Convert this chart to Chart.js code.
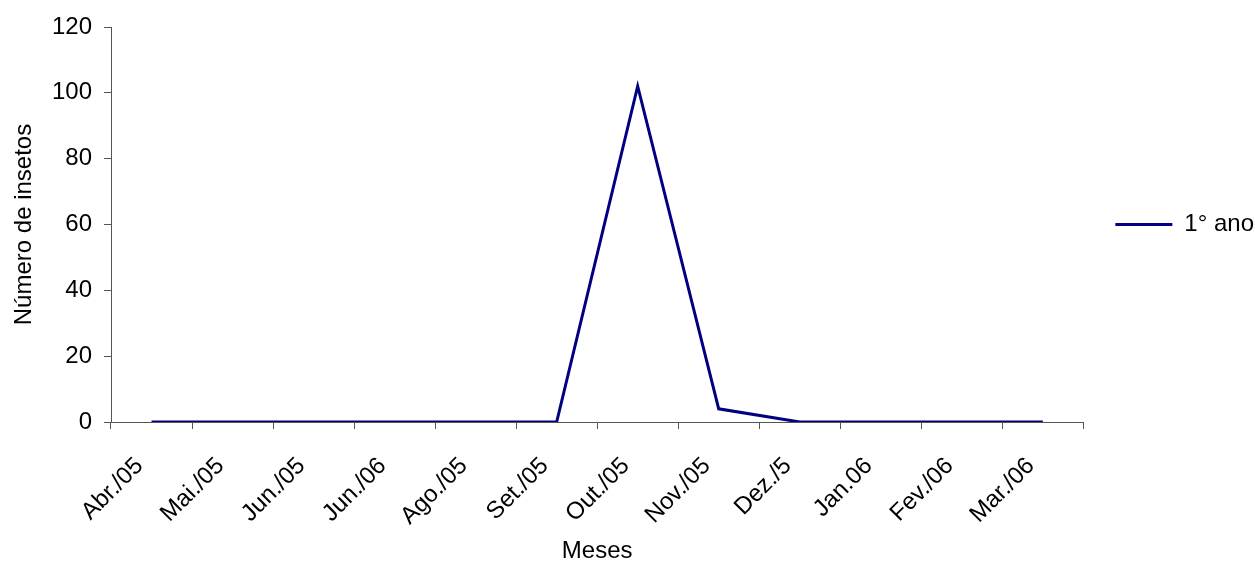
<!DOCTYPE html>
<html lang="pt">
<head>
<meta charset="UTF-8" />
<script src="https://cdn.jsdelivr.net/npm/chart.js"></script>
<title>Número de insetos</title>
<style>
  body { margin: 0; background: #fff; }
  .grafico { width: 1255px; height: 563px; }
</style>
</head>
<body>
<div class="grafico"><canvas id="myChart" width="1255" height="563"></canvas></div>
<script>
var meses = ["Abr./05", "Mai./05", "Jun./05", "Jun./06", "Ago./05", "Set./05", "Out./05", "Nov./05", "Dez./5", "Jan.06", "Fev./06", "Mar./06"];
var primeiroAno = [0, 0, 0, 0, 0, 0, 102, 4, 0, 0, 0, 0];
var yMin = 0, yMax = 120, yPasso = 20;

var fonte = { family: "'Liberation Sans', Arial, sans-serif", size: 24 };
var corEixo = "#555";

const ctx = document.getElementById("myChart");
var chart = new Chart(ctx, {
  type: "line",
  data: {
    labels: meses,
    datasets: [{
      label: "1° ano",
      data: primeiroAno,
      borderColor: "#000080",
      backgroundColor: "#000080",
      borderWidth: 3,
      pointRadius: 0,
      tension: 0
    }]
  },
  options: {
    responsive: false,
    animation: false,
    layout: { padding: { left: 6, top: 27, right: -9, bottom: 0 } },
    plugins: {
      tooltip: { enabled: false },
      legend: {
        position: "right",
        fullSize: false,
        labels: {
          usePointStyle: true,
          pointStyle: "line",
          pointStyleWidth: 57,
          padding: 32,
          color: "#000",
          font: fonte
        }
      }
    },
    scales: {
      x: {
        offset: true,
        grid: { offset: true, drawOnChartArea: false, drawTicks: true, tickLength: 7, color: corEixo },
        border: { display: true, color: corEixo, width: 1 },
        ticks: { color: "#000", font: fonte, minRotation: 45, maxRotation: 45, padding: 23, labelOffset: -12 },
        title: { display: true, text: "Meses", color: "#000", font: fonte, padding: { top: 4, bottom: -3 } },
        afterFit: function (scale) { scale.height = 141; }
      },
      y: {
        min: yMin,
        max: yMax,
        grid: { drawOnChartArea: false, drawTicks: true, tickLength: 7, color: corEixo },
        border: { display: true, color: corEixo, width: 1 },
        ticks: { stepSize: yPasso, color: "#000", font: fonte, padding: 12 },
        title: { display: true, text: "Número de insetos", color: "#000", font: fonte, padding: { top: 4, bottom: 4 } },
        afterFit: function (scale) { scale.width = 105; }
      }
    }
  }
});
</script>
</body>
</html>
